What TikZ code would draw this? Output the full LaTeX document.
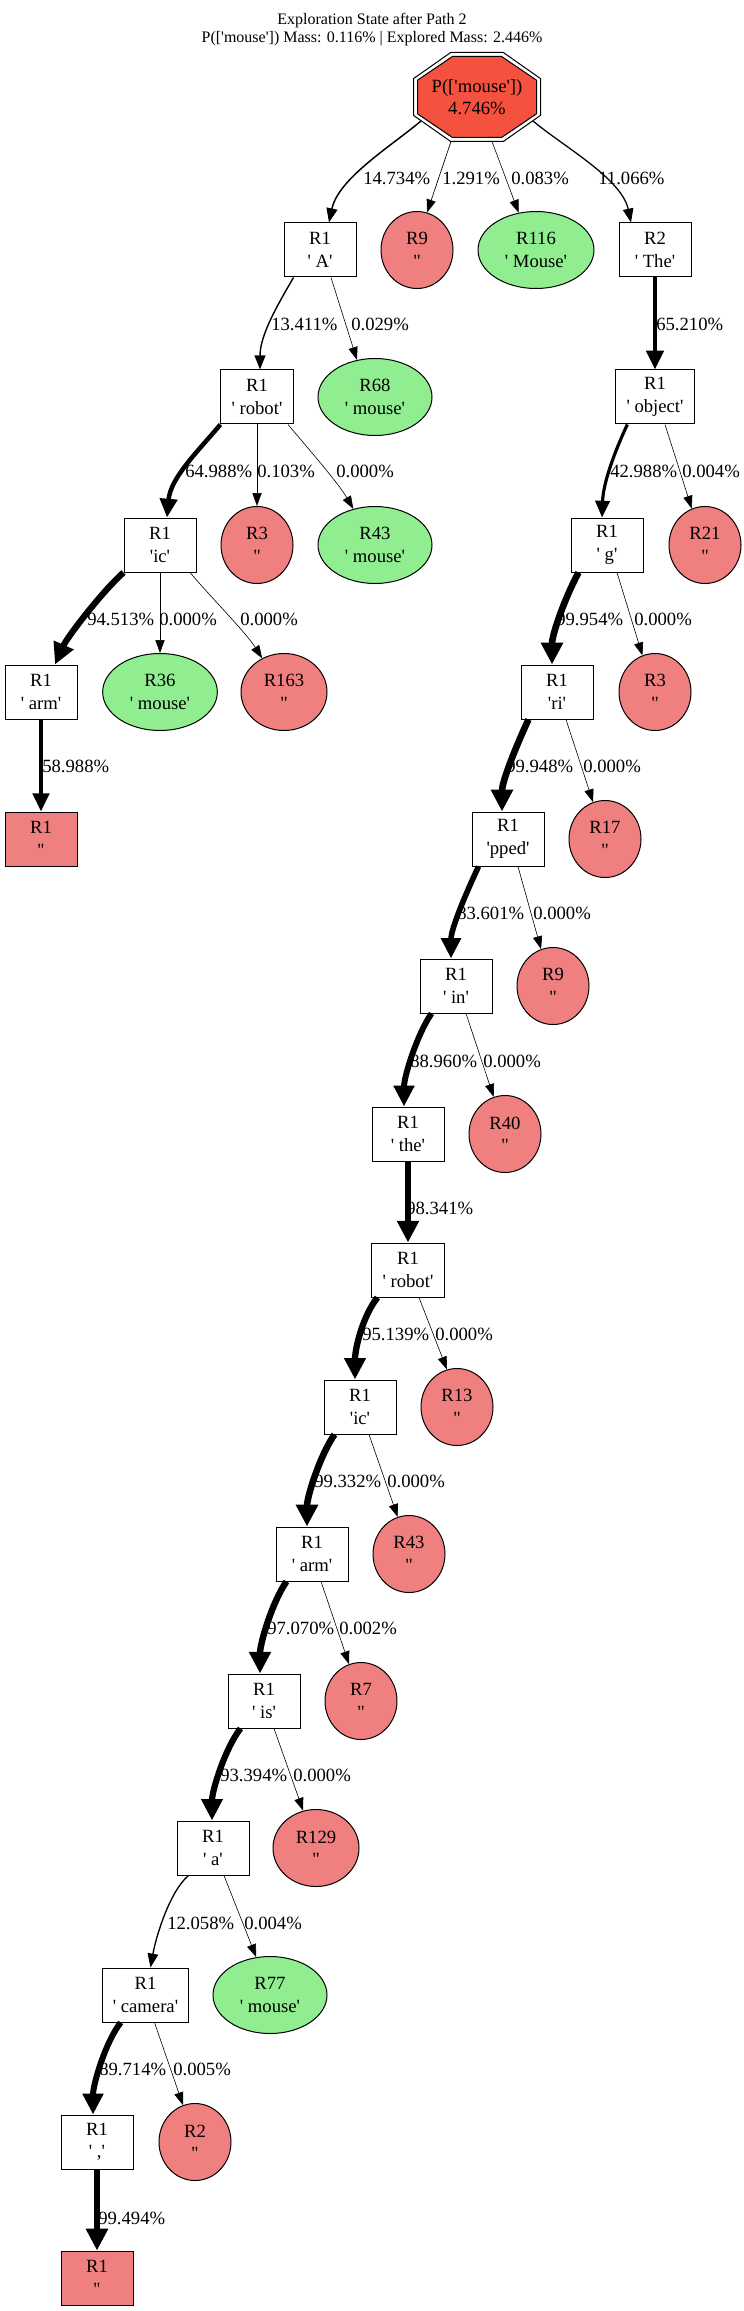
\documentclass[tikz,border=0pt]{standalone}
\usepackage{fontspec}
\setmainfont{Liberation Serif}
\newfontfamily\gv{Liberation Serif}
\usetikzlibrary{shapes.geometric,arrows.meta,calc}
\definecolor{lcoral}{HTML}{F08080}
\definecolor{lgreen}{HTML}{90EE90}
\definecolor{rootred}{RGB}{245,81,63}
\newcommand{\qs}{\textquotesingle}
\begin{document}
\begin{tikzpicture}[x=0.75pt,y=0.75pt,
  every node/.style={font=\gv\fontsize{14}{16.8}\selectfont},
  box/.style={draw=black,line width=0.75pt,rectangle,fill=white,minimum width=54pt,minimum height=40.5pt,inner xsep=8pt,inner ysep=0pt,align=center},
  leafbox/.style={box,fill=lcoral},
  ell/.style={draw=black,line width=0.75pt,ellipse,minimum width=#1,minimum height=57.75pt,inner sep=0pt,align=center},
  bad/.style={ell=#1,fill=lcoral}, bad/.default=54pt,
  good/.style={ell=#1,fill=lgreen}, good/.default=86pt,
  lab/.style={anchor=west,inner sep=0pt},
  ed/.style={line width=#1,-{Triangle[length=9pt 1.5,width=6pt 2]}},
]
\useasboundingbox (0,0) rectangle (743,-2311);
% title
\node[font=\gv\fontsize{12}{14}\selectfont] (t1) at (372,-21) {Exploration State after Path 2};
\node[font=\gv\fontsize{12}{14}\selectfont] (t2) at (372,-39) {P([\qs mouse\qs]) Mass: 0.116\% | Explored Mass: 2.446\%};
% root double octagon
\coordinate (rc) at (477,-97);
\draw[line width=0.75pt,shift={(rc)}] (-26.3,44.5) -- (26.3,44.5) -- (63.5,18.4) -- (63.5,-18.4) -- (26.3,-44.5) -- (-26.3,-44.5) -- (-63.5,-18.4) -- (-63.5,18.4) -- cycle;
\draw[line width=0.75pt,fill=rootred,shift={(rc)}] (-24.6,40.5) -- (24.6,40.5) -- (59.5,16.8) -- (59.5,-16.8) -- (24.6,-40.5) -- (-24.6,-40.5) -- (-59.5,-16.8) -- (-59.5,16.8) -- cycle;
\node[align=center,inner sep=0pt] (root) at (rc) {P([\qs mouse\qs])\\4.746\%};
\coordinate (rA) at ($(rc)+(-56,-24)$);
\coordinate (rB) at ($(rc)+(56,-24)$);
\coordinate (rC) at ($(rc)+(-26,-44.5)$);
\coordinate (rD) at ($(rc)+(15,-44.5)$);
% rank 1
\node[box] (A) at (320,-250) {R1\\\qs\ A\qs};
\node[bad] (R9) at (417,-250) {R9\\\qs\qs};
\node[good=87pt] (R116) at (536,-250) {R116\\\qs\ Mouse\qs};
\node[box] (R2) at (655,-250) {R2\\\qs\ The\qs};
% rank 2
\node[box] (robot) at (257,-397) {R1\\\qs\ robot\qs};
\node[good=85.5pt] (R68) at (375,-397) {R68\\\qs\ mouse\qs};
\node[box] (object) at (655,-397) {R1\\\qs\ object\qs};
% rank 3
\node[box] (ic) at (160,-545) {R1\\\qs ic\qs};
\node[bad] (R3a) at (257,-545) {R3\\\qs\qs};
\node[good=85.5pt] (R43a) at (375,-545) {R43\\\qs\ mouse\qs};
\node[box] (g) at (607,-545) {R1\\\qs\ g\qs};
\node[bad] (R21) at (705,-545) {R21\\\qs\qs};
% rank 4
\node[box] (arm) at (41,-692) {R1\\\qs\ arm\qs};
\node[good=86pt] (R36) at (160,-692) {R36\\\qs\ mouse\qs};
\node[bad=64.5pt] (R163) at (284,-692) {R163\\\qs\qs};
\node[box] (ri) at (557,-692) {R1\\\qs ri\qs};
\node[bad] (R3b) at (655,-692) {R3\\\qs\qs};
% rank 5
\node[leafbox] (leaf1) at (41,-839) {R1\\\qs\qs};
\node[box] (pped) at (508,-839) {R1\\\qs pped\qs};
\node[bad] (R17) at (605,-839) {R17\\\qs\qs};
% rank 6
\node[box] (in) at (456,-986) {R1\\\qs\ in\qs};
\node[bad] (R9b) at (553,-986) {R9\\\qs\qs};
% rank 7
\node[box] (the) at (408,-1134) {R1\\\qs\ the\qs};
\node[bad] (R40) at (505,-1134) {R40\\\qs\qs};
% rank 8
\node[box] (robotb) at (408,-1270) {R1\\\qs\ robot\qs};
% rank 9
\node[box] (icb) at (360,-1407) {R1\\\qs ic\qs};
\node[bad] (R13) at (457,-1407) {R13\\\qs\qs};
% rank 10
\node[box] (armb) at (312,-1554) {R1\\\qs\ arm\qs};
\node[bad] (R43b) at (409,-1554) {R43\\\qs\qs};
% rank 11
\node[box] (is) at (264,-1701) {R1\\\qs\ is\qs};
\node[bad] (R7) at (361,-1701) {R7\\\qs\qs};
% rank 12
\node[box] (a) at (213,-1848) {R1\\\qs\ a\qs};
\node[bad=64.5pt] (R129) at (316,-1848) {R129\\\qs\qs};
% rank 13
\node[box] (camera) at (145.5,-1995) {R1\\\qs\ camera\qs};
\node[good=85.5pt] (R77) at (270,-1995) {R77\\\qs\ mouse\qs};
% rank 14
\node[box] (comma) at (97,-2142) {R1\\\qs\ ,\qs};
\node[bad] (R2b) at (195,-2142) {R2\\\qs\qs};
% rank 15
\node[leafbox] (leaf2) at (97,-2278) {R1\\\qs\qs};
% edges
\draw[ed=1.11pt] (rA) .. controls +(-140:40) and +(78:45) .. ($(A.north)+(9,0)$);
\draw[ed=0.51pt] (rC) -- (R9.75);
\draw[ed=0.45pt] (rD) -- (R116.115);
\draw[ed=0.95pt] (rB) .. controls +(-40:40) and +(102:45) .. ($(R2.north)+(-24,0)$);
\draw[ed=1.05pt] ($(A.south west)+(10,0)$) .. controls +(-120:30) and +(90:35) .. ($(robot.north)+(3,0)$);
\draw[ed=0.45pt] ($(A.south)+(11,0)$) -- (R68.116);
\draw[ed=3.38pt] (R2) -- (object);
\draw[ed=3.37pt] (robot.south west) .. controls +(-130:35) and +(85:40) .. ($(ic.north)+(7,0)$);
\draw[ed=0.45pt] (robot) -- (R3a);
\draw[ed=0.45pt] ($(robot.south)+(31,0)$) .. controls +(-50:30) and +(120:30) .. (R43a.121);
\draw[ed=2.38pt] ($(object.south west)+(12,0)$) .. controls +(-115:30) and +(88:35) .. ($(g.north)+(-5,0)$);
\draw[ed=0.45pt] ($(object.south)+(10,0)$) -- (R21.110);
\draw[ed=4.70pt] (ic.south west) .. controls +(-138:30) and +(66:30) .. ($(arm.north)+(14,0)$);
\draw[ed=0.45pt] (ic) -- (R36);
\draw[ed=0.45pt] ($(ic.south)+(30,0)$) .. controls +(-50:30) and +(122:30) .. (R163.123);
\draw[ed=4.95pt] ($(g.south west)+(8,0)$) .. controls +(-118:30) and +(90:30) .. ($(ri.north)+(-5,0)$);
\draw[ed=0.45pt] ($(g.south)+(10,0)$) -- (R3b.109);
\draw[ed=3.10pt] (arm) -- (leaf1);
\draw[ed=4.95pt] ($(ri.south west)+(8,0)$) .. controls +(-115:30) and +(90:30) .. ($(pped.north)+(-6,0)$);
\draw[ed=0.45pt] ($(ri.south)+(9,0)$) -- (R17.108);
\draw[ed=4.21pt] ($(pped.south west)+(7,0)$) .. controls +(-115:30) and +(90:30) .. ($(in.north)+(-5,0)$);
\draw[ed=0.45pt] ($(pped.south)+(10,0)$) -- (R9b.108);
\draw[ed=4.45pt] ($(in.south west)+(12,0)$) .. controls +(-125:25) and +(90:30) .. ($(the.north)+(-4,0)$);
\draw[ed=0.45pt] ($(in.south)+(10,0)$) -- (R40.107);
\draw[ed=4.88pt] (the) -- (robotb);
\draw[ed=4.73pt] ($(robotb.south west)+(6,0)$) .. controls +(-128:25) and +(90:30) .. ($(icb.north)+(-5,0)$);
\draw[ed=0.45pt] ($(robotb.south)+(11,0)$) -- (R13.105);
\draw[ed=4.92pt] ($(icb.south west)+(11,0)$) .. controls +(-125:25) and +(90:30) .. ($(armb.north)+(-5,0)$);
\draw[ed=0.45pt] ($(icb.south)+(9,0)$) -- (R43b.107);
\draw[ed=4.82pt] ($(armb.south west)+(11,0)$) .. controls +(-125:25) and +(90:30) .. ($(is.north)+(-4,0)$);
\draw[ed=0.45pt] ($(armb.south)+(9,0)$) -- (R7.108);
\draw[ed=4.65pt] ($(is.south west)+(13,0)$) .. controls +(-128:25) and +(90:30) .. ($(a.north)+(-1,0)$);
\draw[ed=0.45pt] ($(is.south)+(10,0)$) -- (R129.109);
\draw[ed=0.99pt] ($(a.south west)+(12,0)$) .. controls +(-140:25) and +(80:30) .. ($(camera.north)+(5,0)$);
\draw[ed=0.45pt] ($(a.south)+(11,0)$) -- (R77.110);
\draw[ed=4.49pt] ($(camera.south west)+(19,0)$) .. controls +(-128:25) and +(90:30) .. ($(comma.north)+(-4,0)$);
\draw[ed=0.45pt] ($(camera.south)+(9,0)$) -- (R2b.108);
\draw[ed=4.93pt] (comma) -- (leaf2);
% edge labels
\node[lab] (l1) at (363,-178) {14.734\%};
\node[lab] (l2) at (442,-178) {1.291\%};
\node[lab] (l3) at (511,-178) {0.083\%};
\node[lab] (l4) at (598,-178) {11.066\%};
\node[lab] (l5) at (271,-324) {13.411\%};
\node[lab] (l6) at (351,-324) {0.029\%};
\node[lab] (l7) at (656,-324) {65.210\%};
\node[lab] (l8) at (185,-471) {64.988\%};
\node[lab] (l9) at (257,-471) {0.103\%};
\node[lab] (l10) at (336,-471) {0.000\%};
\node[lab] (l11) at (610,-471) {42.988\%};
\node[lab] (l12) at (682,-471) {0.004\%};
\node[lab] (l13) at (87,-619) {94.513\%};
\node[lab] (l14) at (159,-619) {0.000\%};
\node[lab] (l15) at (240,-619) {0.000\%};
\node[lab] (l16) at (556,-619) {99.954\%};
\node[lab] (l17) at (634,-619) {0.000\%};
\node[lab] (l18) at (42,-766) {58.988\%};
\node[lab] (l19) at (506,-766) {99.948\%};
\node[lab] (l20) at (583,-766) {0.000\%};
\node[lab] (l21) at (457,-913) {83.601\%};
\node[lab] (l22) at (533,-913) {0.000\%};
\node[lab] (l23) at (410,-1061) {88.960\%};
\node[lab] (l24) at (483,-1061) {0.000\%};
\node[lab] (l25) at (406,-1208) {98.341\%};
\node[lab] (l26) at (362,-1334) {95.139\%};
\node[lab] (l27) at (435,-1334) {0.000\%};
\node[lab] (l28) at (314,-1481) {99.332\%};
\node[lab] (l29) at (387,-1481) {0.000\%};
\node[lab] (l30) at (267,-1628) {97.070\%};
\node[lab] (l31) at (339,-1628) {0.002\%};
\node[lab] (l32) at (220,-1775) {93.394\%};
\node[lab] (l33) at (293,-1775) {0.000\%};
\node[lab] (l34) at (167,-1923) {12.058\%};
\node[lab] (l35) at (244,-1923) {0.004\%};
\node[lab] (l36) at (99,-2069) {89.714\%};
\node[lab] (l37) at (173,-2069) {0.005\%};
\node[lab] (l38) at (98,-2218) {99.494\%};
\end{tikzpicture}
\end{document}
